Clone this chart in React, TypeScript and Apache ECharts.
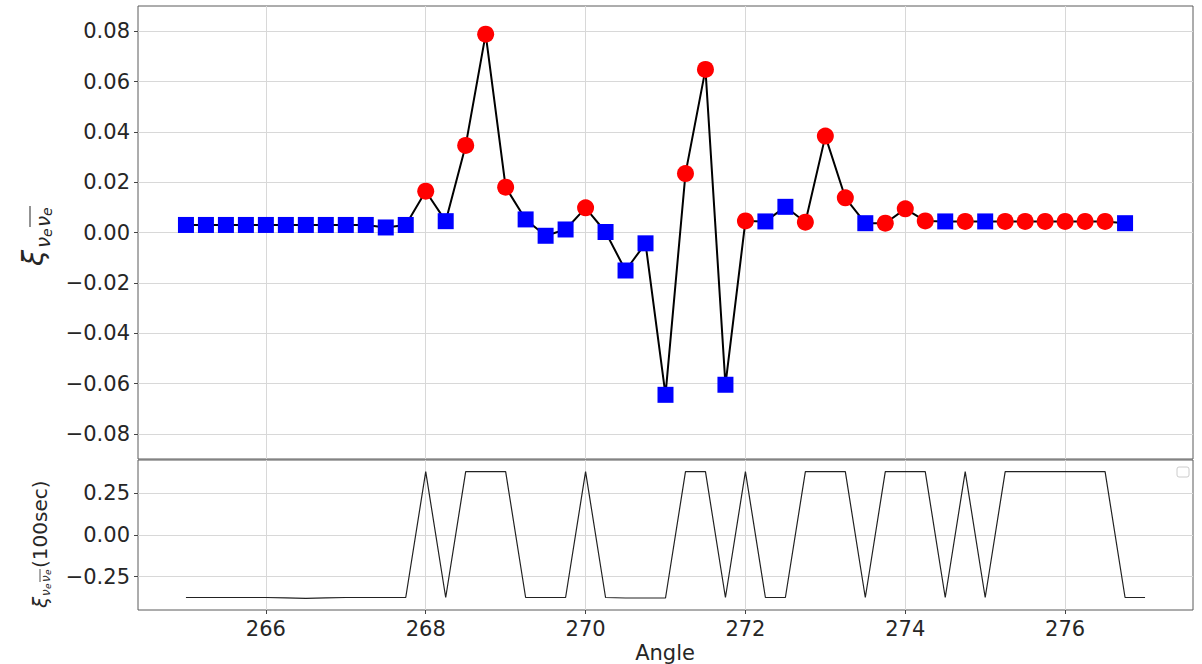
import React, { useEffect, useRef } from "react";
import * as echarts from "echarts";

// Angles (deg) sampled in the lower panel
const angles = [
  265, 265.25, 265.5, 265.75, 266, 266.25, 266.5, 266.75, 267, 267.25, 267.5, 267.75,
  268, 268.25, 268.5, 268.75, 269, 269.25, 269.5, 269.75, 270, 270.25, 270.5, 270.75,
  271, 271.25, 271.5, 271.75, 272, 272.25, 272.5, 272.75, 273, 273.25, 273.5, 273.75,
  274, 274.25, 274.5, 274.75, 275, 275.25, 275.5, 275.75, 276, 276.25, 276.5, 276.75, 277,
];

// Upper panel: xi values (one per angle, last angle has none)
const xiValues = [
  0.003, 0.003, 0.003, 0.003, 0.003, 0.003, 0.003, 0.003, 0.003, 0.003, 0.002, 0.003,
  0.0164, 0.0045, 0.0346, 0.0788, 0.018, 0.0052, -0.0013, 0.0012, 0.0098, 0.0002, -0.0151, -0.0043,
  -0.0645, 0.0234, 0.0648, -0.0605, 0.0046, 0.0044, 0.0102, 0.0041, 0.0383, 0.0138, 0.0037, 0.0037,
  0.0094, 0.0046, 0.0044, 0.0044, 0.0044, 0.0044, 0.0044, 0.0044, 0.0044, 0.0044, 0.0044, 0.0037,
];

// Lower panel: xi over 100 sec
const xi100 = [
  -0.375, -0.375, -0.375, -0.375, -0.375, -0.377, -0.38, -0.377, -0.375, -0.375, -0.375, -0.375,
  0.38, -0.375, 0.38, 0.38, 0.38, -0.375, -0.375, -0.375, 0.38, -0.375, -0.378, -0.378,
  -0.378, 0.38, 0.38, -0.375, 0.38, -0.375, -0.375, 0.38, 0.38, 0.38, -0.375, 0.38,
  0.38, 0.38, -0.375, 0.38, -0.375, 0.38, 0.38, 0.38, 0.38, 0.38, 0.38, -0.375, -0.375,
];

const xTicks = [266, 268, 270, 272, 274, 276];
const yTopTicks = [-0.08, -0.06, -0.04, -0.02, 0, 0.02, 0.04, 0.06, 0.08];
const yBottomTicks = [-0.25, 0, 0.25];

const FONT = "DejaVu Sans";
const TXT = "#262626";
const GRIDC = "#d8d8d8";
const FS = 21;

const fmt = (v: number) => (v < 0 ? "\u2212" : "") + Math.abs(v).toFixed(2);

export default function App() {
  const ref = useRef<HTMLDivElement>(null);
  useEffect(() => {
    if (!ref.current) return;
    const chart = echarts.init(ref.current, undefined, { renderer: "svg" });
    const topLine = xiValues.map((v, i) => [angles[i], v]);
    const tagged = xiValues.map((v, i) => [angles[i], v, xi100[i]]);
    const red = tagged.filter((d) => d[2] > 0).map((d) => [d[0], d[1]]);
    const blue = tagged.filter((d) => d[2] <= 0).map((d) => [d[0], d[1]]);
    const bottomLine = xi100.map((v, i) => [angles[i], v]);

    const L = 138, W = 1055;
    const tickStyle = { color: "#444" };
    chart.setOption({
      animation: false,
      backgroundColor: "#ffffff",
      grid: [
        { left: L, top: 6, width: W, height: 453, show: true, borderColor: "#5a5a5a", borderWidth: 1, backgroundColor: "transparent" },
        { left: L, top: 460, width: W, height: 150, show: true, borderColor: "#5a5a5a", borderWidth: 1, backgroundColor: "transparent" },
      ],
      xAxis: [
        {
          gridIndex: 0, type: "value", min: 264.4, max: 277.6,
          axisLine: { show: false, onZero: false },
          axisTick: { show: false, customValues: xTicks },
          axisLabel: { show: false, customValues: xTicks },
          splitLine: { show: true, lineStyle: { color: GRIDC, width: 1 } },
        },
        {
          gridIndex: 1, type: "value", min: 264.4, max: 277.6, position: "bottom",
          axisLine: { show: false, onZero: false },
          axisTick: { show: true, customValues: xTicks, length: 4, lineStyle: tickStyle },
          axisLabel: { show: true, customValues: xTicks, fontSize: FS, color: TXT, fontFamily: FONT, margin: 8 },
          splitLine: { show: true, lineStyle: { color: GRIDC, width: 1 } },
        },
      ],
      yAxis: [
        {
          gridIndex: 0, type: "value", min: -0.09, max: 0.09,
          axisLine: { show: false, onZero: false },
          axisTick: { show: true, customValues: yTopTicks, length: 4, lineStyle: tickStyle },
          axisLabel: { show: true, customValues: yTopTicks, formatter: fmt, fontSize: FS, color: TXT, fontFamily: FONT, margin: 8 },
          splitLine: { show: true, lineStyle: { color: GRIDC, width: 1 } },
        },
        {
          gridIndex: 1, type: "value", min: -0.45, max: 0.45,
          axisLine: { show: false, onZero: false },
          axisTick: { show: true, customValues: yBottomTicks, length: 4, lineStyle: tickStyle },
          axisLabel: { show: true, customValues: yBottomTicks, formatter: fmt, fontSize: FS, color: TXT, fontFamily: FONT, margin: 8 },
          splitLine: { show: true, lineStyle: { color: GRIDC, width: 1 } },
        },
      ],
      series: [
        {
          type: "line", xAxisIndex: 0, yAxisIndex: 0, data: topLine, showSymbol: false, z: 2,
          lineStyle: { color: "#000", width: 2 }, itemStyle: { color: "#000" },
        },
        {
          type: "scatter", xAxisIndex: 0, yAxisIndex: 0, data: blue, symbol: "rect", symbolSize: 16, z: 3,
          itemStyle: { color: "#0000ff", opacity: 1 },
        },
        {
          type: "scatter", xAxisIndex: 0, yAxisIndex: 0, data: red, symbol: "circle", symbolSize: 17, z: 4,
          itemStyle: { color: "#ff0000", opacity: 1 },
        },
        {
          type: "line", xAxisIndex: 1, yAxisIndex: 1, data: bottomLine, showSymbol: false, z: 2,
          lineStyle: { color: "#222", width: 1.2 }, itemStyle: { color: "#222" },
        },
      ],
      graphic: [
        {
          type: "text", x: 665, y: 653,
          style: { text: "Angle", fontSize: FS, fill: TXT, fontFamily: FONT, align: "center", verticalAlign: "middle" },
        },
        {
          type: "rect", shape: { x: 1177, y: 467, width: 12, height: 10, r: 2 },
          style: { fill: "#fff", stroke: "#cccccc", lineWidth: 1 },
        },
        {
          type: "group", x: 33, y: 232, rotation: Math.PI / 2,
          children: [
            { type: "text", x: -34, y: 0, style: { text: "ξ", fontSize: 29, fontStyle: "italic", fill: TXT, fontFamily: FONT, verticalAlign: "middle" } },
            { type: "text", x: -16, y: 10, style: { text: "ν", fontSize: 20, fontStyle: "italic", fill: TXT, fontFamily: FONT, verticalAlign: "middle" } },
            { type: "text", x: -5, y: 14, style: { text: "e", fontSize: 14, fontStyle: "italic", fill: TXT, fontFamily: FONT, verticalAlign: "middle" } },
            { type: "text", x: 5, y: 10, style: { text: "ν", fontSize: 20, fontStyle: "italic", fill: TXT, fontFamily: FONT, verticalAlign: "middle" } },
            { type: "text", x: 16, y: 14, style: { text: "e", fontSize: 14, fontStyle: "italic", fill: TXT, fontFamily: FONT, verticalAlign: "middle" } },
            { type: "line", shape: { x1: 5, y1: -3, x2: 26, y2: -3 }, style: { stroke: TXT, lineWidth: 1 } },
          ],
        },
        {
          type: "group", x: 40, y: 535, rotation: Math.PI / 2,
          children: [
            { type: "text", x: -73, y: 0, style: { text: "ξ", fontSize: 20, fontStyle: "italic", fill: TXT, fontFamily: FONT, verticalAlign: "middle" } },
            { type: "text", x: -61, y: 6, style: { text: "ν", fontSize: 12, fontStyle: "italic", fill: TXT, fontFamily: FONT, verticalAlign: "middle" } },
            { type: "text", x: -54, y: 8, style: { text: "e", fontSize: 9, fontStyle: "italic", fill: TXT, fontFamily: FONT, verticalAlign: "middle" } },
            { type: "text", x: -47, y: 6, style: { text: "ν", fontSize: 12, fontStyle: "italic", fill: TXT, fontFamily: FONT, verticalAlign: "middle" } },
            { type: "text", x: -40, y: 8, style: { text: "e", fontSize: 9, fontStyle: "italic", fill: TXT, fontFamily: FONT, verticalAlign: "middle" } },
            { type: "line", shape: { x1: -47, y1: 0, x2: -34, y2: 0 }, style: { stroke: TXT, lineWidth: 0.8 } },
            { type: "text", x: -33, y: 0, style: { text: "(100sec)", fontSize: 20, fill: TXT, fontFamily: FONT, verticalAlign: "middle" } },
          ],
        },
      ],
    });
    return () => chart.dispose();
  }, []);
  return <div ref={ref} style={{ position: "absolute", left: 0, top: 0, width: 1202, height: 664 }} />;
}
